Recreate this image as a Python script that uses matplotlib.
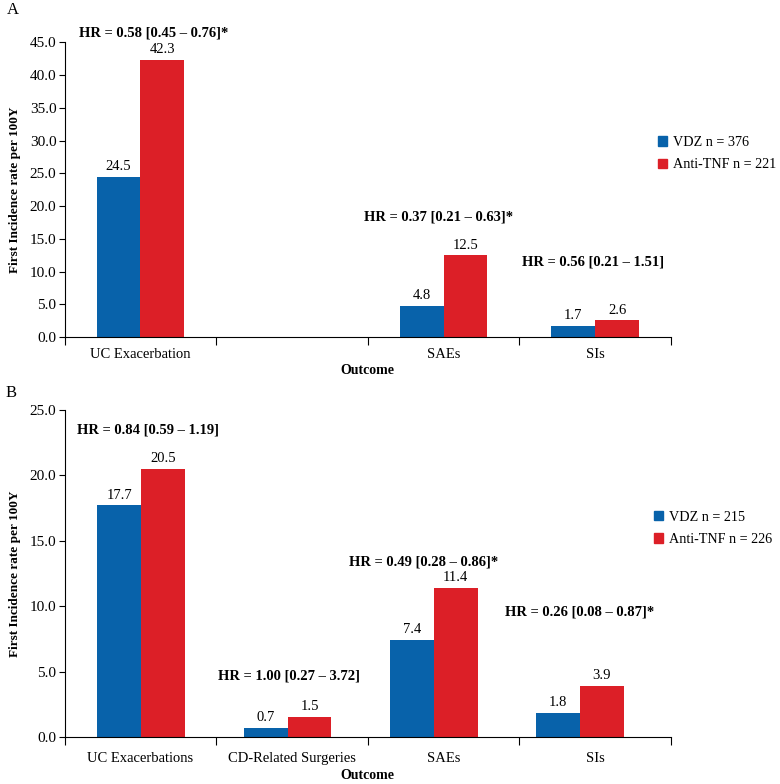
import matplotlib.pyplot as plt
import numpy as np

plt.rcParams['font.family'] = ['Liberation Serif', 'DejaVu Serif']

# panel A data
outcomes_a = ["UC Exacerbation", "", "SAEs", "SIs"]
vdz_a = [24.5, None, 4.8, 1.7]
tnf_a = [42.3, None, 12.5, 2.6]
hr_a = ["HR = 0.58 [0.45 – 0.76]*", None, "HR = 0.37 [0.21 – 0.63]*", "HR = 0.56 [0.21 – 1.51]"]
legend_a = ["VDZ n = 376", "Anti-TNF n = 221"]

# panel B data
outcomes_b = ["UC Exacerbations", "CD-Related Surgeries", "SAEs", "SIs"]
vdz_b = [17.7, 0.7, 7.4, 1.8]
tnf_b = [20.5, 1.5, 11.4, 3.9]
hr_b = ["HR = 0.84 [0.59 – 1.19]", "HR = 1.00 [0.27 – 3.72]", "HR = 0.49 [0.28 – 0.86]*", "HR = 0.26 [0.08 – 0.87]*"]
legend_b = ["VDZ n = 215", "Anti-TNF n = 226"]

blue = "#0862aa"
red = "#dc1f27"
w = 0.29

fig = plt.figure(figsize=(7.8, 7.84), dpi=100)
ax_a = fig.add_axes([0.083, 0.570, 0.777, 0.376])
ax_b = fig.add_axes([0.083, 0.060, 0.777, 0.417])


def draw(ax, outcomes, vdz, tnf, hr, legend, ymax, hr_pos, spacing, leg_xy, tpad, lpad):
    x = np.arange(len(outcomes))
    for i in x:
        if vdz[i] is None:
            continue
        c = i * spacing + (1 - spacing) * 0.15
        ax.bar(c - w / 2, vdz[i], w, color=blue)
        ax.bar(c + w / 2, tnf[i], w, color=red)
        ax.text(c - w / 2, vdz[i] + ymax * 0.012, f"{vdz[i]:.1f}", ha="center", va="bottom", fontsize=10.5)
        ax.text(c + w / 2, tnf[i] + ymax * 0.012, f"{tnf[i]:.1f}", ha="center", va="bottom", fontsize=10.5)
        dx, yy = hr_pos[i]
        ax.text(i + dx, yy, hr[i], ha="center", va="center", fontsize=10.5,
                fontweight="bold", clip_on=False)
    ax.set_xlim(-0.5, len(outcomes) - 0.5)
    ax.set_ylim(0, ymax)
    ticks = np.arange(0, ymax + 0.1, 5)
    ax.set_yticks(ticks)
    ax.set_yticklabels([f"{v:.1f}" for v in ticks], fontsize=11)
    ax.set_xticks(np.arange(-0.5, len(outcomes), 1))
    ax.set_xticklabels([])
    ax.set_xticks(x, minor=True)
    ax.set_xticklabels(outcomes, minor=True, fontsize=10.5)
    ax.tick_params(axis="x", which="major", length=6, direction="out")
    ax.tick_params(axis="x", which="minor", length=0, pad=tpad)
    ax.tick_params(axis="y", length=4, direction="out", pad=2)
    for s in ["top", "right"]:
        ax.spines[s].set_visible(False)
    ax.set_xlabel("Outcome", fontweight="bold", fontsize=10, labelpad=lpad)
    ax.set_ylabel("First Incidence rate per 100Y", fontweight="bold", fontsize=9.5, labelpad=6)
    ax.legend([plt.Rectangle((0, 0), 1, 1, color=blue), plt.Rectangle((0, 0), 1, 1, color=red)],
              legend, loc="center left", bbox_to_anchor=leg_xy, bbox_transform=fig.transFigure,
              frameon=False, borderpad=0, borderaxespad=0,
              handlelength=0.64, handleheight=0.64, handletextpad=0.47, fontsize=10.2, labelspacing=0.66)


draw(ax_a, outcomes_a, vdz_a, tnf_a, hr_a, legend_a, 45,
     [(0.09, 46.5), None, (-0.03, 18.3), (-0.01, 11.4)], 1.0, (0.843, 0.804), 8, 2)
draw(ax_b, outcomes_b, vdz_b, tnf_b, hr_b, legend_b, 25,
     [(0.05, 23.5), (-0.02, 4.66), (-0.13, 13.4), (-0.1, 9.55)], 0.965, (0.838, 0.326), 11, 3)

fig.text(0.009, 0.982, "A", fontsize=12)
fig.text(0.007, 0.4936, "B", fontsize=12)

fig.savefig("out.png", dpi=100, facecolor="white")
